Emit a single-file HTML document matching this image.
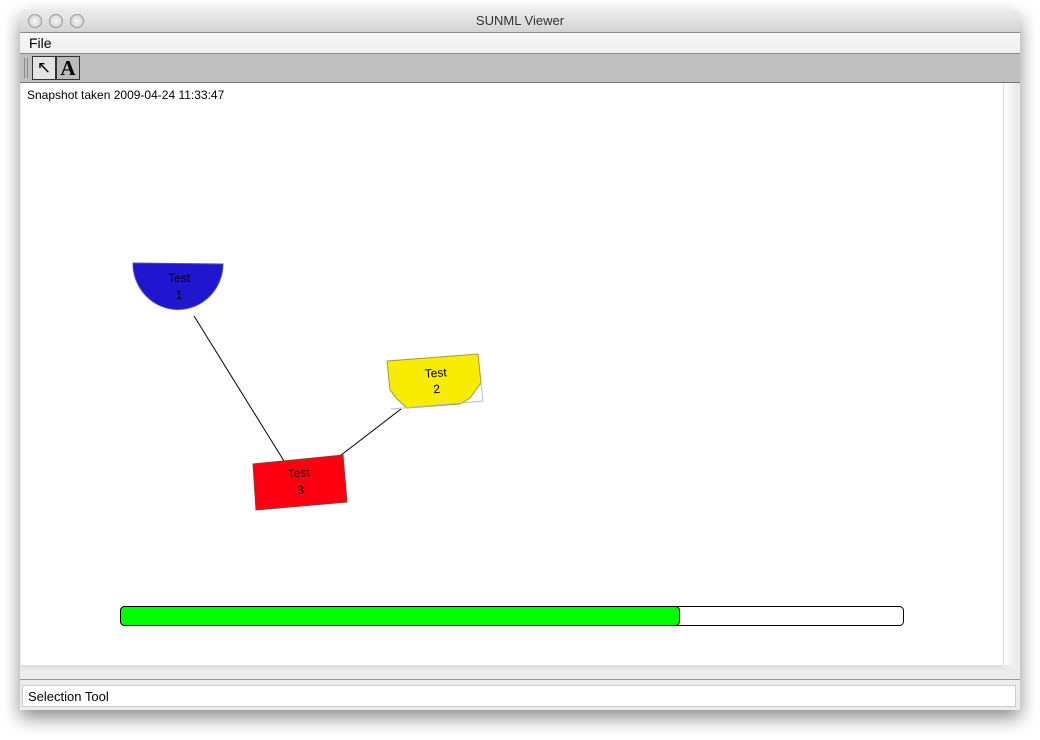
<!DOCTYPE html>
<html><head><style>
html,body{margin:0;padding:0;width:1040px;height:740px;background:#fff;overflow:hidden;font-family:"Liberation Sans",sans-serif;}
.win{position:absolute;left:20px;top:10px;width:1000px;height:700px;box-shadow:0 8px 18px rgba(0,0,0,0.45);background:#ececec;border-radius:5px 5px 0 0;}
.title{position:absolute;left:0;top:0;width:1000px;height:22px;background:linear-gradient(#ececec,#d4d4d4);border-radius:5px 5px 0 0;border-bottom:1px solid #8a8a8a;font-size:13px;color:#333;text-align:center;line-height:22px;}
.dot{position:absolute;top:4px;width:12px;height:12px;border-radius:50%;background:radial-gradient(#fafafa,#c8c8c8);border:1px solid #9a9a9a;}
.menu{position:absolute;left:0;top:23px;width:1000px;height:20px;background:linear-gradient(#f8f8f8,#efefef);border-bottom:1px solid #8a8a8a;font-size:14px;line-height:20px;}
.tb{position:absolute;left:0;top:44px;width:1000px;height:28px;background:#c0c0c0;border-bottom:1px solid #777;}
.canvas{position:absolute;left:1px;top:73px;width:982px;height:582px;background:#fff;}
.sb{position:absolute;left:983px;top:73px;width:14px;height:582px;background:linear-gradient(90deg,#fff,#e8e8e8);border-left:1px solid #ddd;}
.status{position:absolute;left:2px;top:675px;width:994px;height:22px;background:#fff;border:1px solid #ccc;font-size:13px;line-height:22px;padding-left:5px;box-sizing:border-box;}
</style></head><body>
<div class="win">
<div class="title">SUNML Viewer
<div class="dot" style="left:8px"></div><div class="dot" style="left:29px"></div><div class="dot" style="left:50px"></div></div>
<div class="menu"><span style="margin-left:9px">File</span></div>
<div class="tb">
<div style="position:absolute;left:4px;top:4px;width:1px;height:20px;background:#888"></div>
<div style="position:absolute;left:7px;top:4px;width:1px;height:20px;background:#888"></div>
<div style="position:absolute;left:12px;top:2px;width:22px;height:22px;background:#e4e4e4;border:1px solid #333;font-size:17px;text-align:center;line-height:22px">&#8598;</div>
<div style="position:absolute;left:36px;top:2px;width:22px;height:22px;background:#bbb;border:1px solid #333;font-family:'Liberation Serif',serif;font-weight:bold;font-size:21px;text-align:center;line-height:22px">A</div>
</div>
<div class="canvas"></div>
<div class="sb"></div>
<div style="position:absolute;left:1px;top:655px;width:982px;height:8px;background:linear-gradient(#ddd,#f2f2f2)"></div>
<div style="position:absolute;left:0;top:669px;width:1000px;height:1px;background:#999"></div>
<div class="status">Selection Tool</div>
</div>
<svg style="position:absolute;left:0;top:0" width="1040" height="740">
<text x="27" y="99" font-size="12" font-family="Liberation Sans">Snapshot taken 2009-04-24 11:33:47</text>
<line x1="194" y1="316" x2="284" y2="461" stroke="#000" stroke-width="1"/>
<line x1="401" y1="409" x2="336" y2="459" stroke="#000" stroke-width="1"/>
<path d="M133,263 L223,264 A45,46 0 0 1 133,263 Z" fill="#2016d0" stroke="#5050a0" stroke-width="1"/>
<path d="M387,361 L478,354 L481,383 L470,398 L460,404 L407,408 L397,399 L390,390 Z" fill="#f8ec00" stroke="#a09a40" stroke-width="1"/>
<polyline points="481,383 483,401 391,409" fill="none" stroke="#bbb"/>
<polygon points="253,464 343,455 347,502 256,510" fill="#ff0010" stroke="#804040" stroke-width="1"/>
<g font-size="12" font-family="Liberation Sans" text-anchor="middle">
<text x="179" y="282">Test</text><text x="179" y="299">1</text>
<text x="436" y="377" transform="rotate(-4 436 377)">Test</text><text x="437" y="393" transform="rotate(-4 437 393)">2</text>
<text x="299" y="477" transform="rotate(-5 299 477)">Test</text><text x="301" y="494" transform="rotate(-5 301 494)">3</text>
</g>
<rect x="120.5" y="606.5" width="783" height="19" rx="4" fill="#fff" stroke="#000"/>
<rect x="120.5" y="606.5" width="559" height="19" rx="4" fill="#00ff00" stroke="#000"/>
</svg>
</body></html>
